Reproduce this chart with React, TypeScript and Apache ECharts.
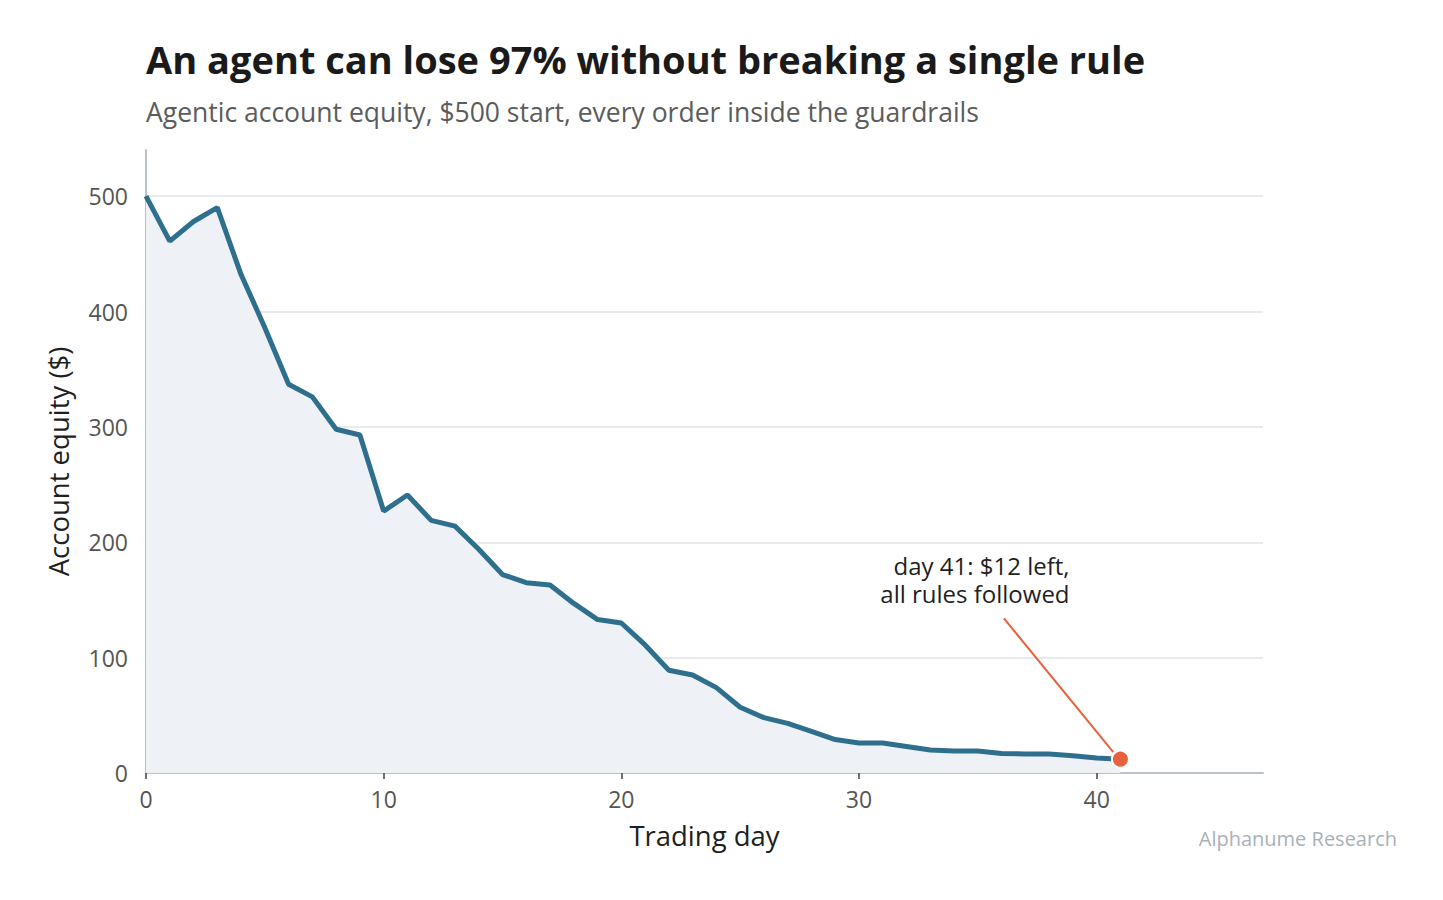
import React, { useEffect, useRef } from "react";
import * as echarts from "echarts";

const TITLE = "An agent can lose 97% without breaking a single rule";
const SUBTITLE = "Agentic account equity, $500 start, every order inside the guardrails";
const X_NAME = "Trading day";
const Y_NAME = "Account equity ($)";
const SOURCE = "Alphanume Research";
const ANNOT_LINES = ["day 41: $12 left,", "all rules followed"];

const days = [
  0, 1, 2, 3, 4, 5, 6, 7, 8, 9, 10, 11, 12, 13, 14, 15, 16, 17, 18, 19, 20,
  21, 22, 23, 24, 25, 26, 27, 28, 29, 30, 31, 32, 33, 34, 35, 36, 37, 38, 39,
  40, 41,
];
const equity = [
  500, 461, 478, 490, 432, 386, 337, 326, 298, 293, 227, 241, 219, 214, 194,
  172, 165, 163, 147, 133, 130, 111, 89, 85, 74, 57, 48, 43, 36, 29, 26, 26,
  23, 20, 19, 19, 17, 16.5, 16.5, 15, 13, 12,
];
const xTicks = [0, 10, 20, 30, 40];
const yTicks = [0, 100, 200, 300, 400, 500];
const finalPoint = [41, 12];
const arrowFrom = [36.1, 134];
const arrowTo = [40.7, 18];
const annotAnchor = [38.86, 168];

const FONT = "'Open Sans', 'Noto Sans', sans-serif";

export default function App() {
  const ref = useRef<HTMLDivElement>(null);
  useEffect(() => {
    if (!ref.current) return;
    const chart = echarts.init(ref.current, undefined, { renderer: "svg" });
    chart.setOption({
      animation: false,
      backgroundColor: "#ffffff",
      textStyle: { fontFamily: FONT },
      grid: { left: 146, right: 180, top: 150, bottom: 127, containLabel: false },
      xAxis: {
        type: "value",
        min: 0,
        max: 47,
        interval: 10,
        name: X_NAME,
        nameLocation: "middle",
        nameGap: 48,
        nameTextStyle: { fontSize: 27.5, color: "#1f1f1f", fontFamily: FONT },
        axisLine: { show: true, lineStyle: { color: "#BAC1C8", width: 2 } },
        axisTick: {
          show: true,
          length: 6,
          lineStyle: { color: "#444", width: 1.5 },
          customValues: xTicks,
        },
        axisLabel: {
          fontSize: 23,
          color: "#555",
          margin: 14,
          fontFamily: FONT,
          customValues: xTicks,
        },
        splitLine: { show: false },
      },
      yAxis: {
        type: "value",
        min: 0,
        max: 540,
        interval: 100,
        name: Y_NAME,
        nameLocation: "middle",
        nameGap: 74,
        nameRotate: 90,
        nameTextStyle: { fontSize: 27.5, color: "#1f1f1f", fontFamily: FONT },
        axisLine: { show: true, lineStyle: { color: "#BAC1C8", width: 2 } },
        axisTick: { show: false },
        axisLabel: {
          fontSize: 23,
          color: "#555",
          margin: 18,
          fontFamily: FONT,
          customValues: yTicks,
        },
        splitLine: {
          show: true,
          showMinLine: false,
          showMaxLine: false,
          lineStyle: { color: "#E1E4E7", width: 1.5 },
        },
      },
      series: [
        {
          type: "line",
          data: days.map((d, i) => [d, equity[i]]),
          showSymbol: false,
          symbol: "none",
          lineStyle: { color: "#2E6F8E", width: 5 },
          areaStyle: { color: "#EEF2F6", opacity: 1 },
          z: 3,
          markLine: {
            silent: true,
            symbol: ["none", "none"],
            lineStyle: { color: "#E8613D", width: 2, type: "solid" },
            label: { show: false },
            data: [[{ coord: arrowFrom }, { coord: arrowTo }]],
          },
        },
        {
          type: "scatter",
          data: [finalPoint],
          symbol: "circle",
          symbolSize: 17,
          itemStyle: {
            color: "#E8613D",
            borderColor: "#ffffff",
            borderWidth: 2,
            opacity: 1,
          },
          z: 5,
        },
      ],
    });
    const p = chart.convertToPixel({ gridIndex: 0 }, annotAnchor) as number[];
    chart.setOption({
      graphic: [
        {
          type: "text",
          left: 146,
          top: 40,
          style: {
            text: TITLE,
            fontSize: 38,
            fontWeight: "bold",
            fill: "#1a1a1a",
            fontFamily: FONT,
          },
        },
        {
          type: "text",
          left: 146,
          top: 98,
          style: {
            text: SUBTITLE,
            fontSize: 26.5,
            fill: "#5c5c5c",
            fontFamily: FONT,
          },
        },
        ...ANNOT_LINES.map((t, i) => ({
          type: "text",
          x: p[0],
          y: p[1] + (i - 0.5) * 28,
          style: {
            text: t,
            fontSize: 24,
            fill: "#1f1f1f",
            align: "right",
            verticalAlign: "middle",
            fontFamily: FONT,
          },
        })),
        {
          type: "text",
          right: 46,
          top: 828,
          style: {
            text: SOURCE,
            fontSize: 20,
            fill: "#A9B1B8",
            fontFamily: FONT,
          },
        },
      ],
    });
    return () => chart.dispose();
  }, []);
  return (
    <div
      ref={ref}
      style={{ position: "absolute", left: 0, top: 0, width: 1443, height: 900 }}
    />
  );
}
